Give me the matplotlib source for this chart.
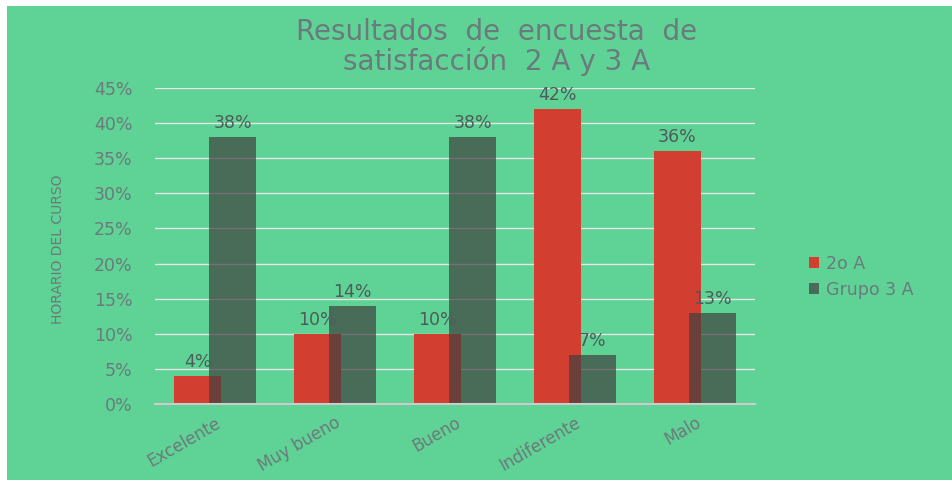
import matplotlib
matplotlib.use("Agg")
import matplotlib.pyplot as plt
import numpy as np
from matplotlib.patches import Rectangle

categories = ["Excelente", "Muy bueno", "Bueno", "Indiferente", "Malo"]
serie_2oA = [0.04, 0.10, 0.10, 0.42, 0.36]
serie_3A = [0.38, 0.14, 0.38, 0.07, 0.13]
series_names = ["2o A", "Grupo 3 A"]
yticks = [0, 0.05, 0.10, 0.15, 0.20, 0.25, 0.30, 0.35, 0.40, 0.45]

BG = "#5fd395"
RED = "#d23e2f"
GREY = "#404040"
TXT = "#6b7a7c"
LBL = "#4d5c5a"

plt.rcParams['font.family'] = ['DejaVu Sans']

fig = plt.figure(figsize=(9.52, 4.80), dpi=100)
fig.patch.set_facecolor("white")
fig.patches.append(Rectangle((7/952, 0), 1 - 7/952, 1 - 6/480, transform=fig.transFigure,
                             facecolor=BG, edgecolor="none", zorder=-10))

ax = fig.add_axes([155/952, 1 - 404/480, 600/952, (404 - 88)/480])
ax.set_facecolor("none")

x = np.arange(len(categories))
off = 0.146
w = 0.39
b1 = ax.bar(x - off, serie_2oA, width=w, color=RED, zorder=3, label=series_names[0])
b2 = ax.bar(x + off, serie_3A, width=w, color=GREY, alpha=0.7, zorder=4, label=series_names[1])

for xi, v in zip(x - off, serie_2oA):
    ax.text(xi, v + 0.007, f"{round(v*100)}%", ha="center", va="bottom", color=LBL,
            fontsize=12.5, zorder=6)
for xi, v in zip(x + off, serie_3A):
    ax.text(xi, v + 0.007, f"{round(v*100)}%", ha="center", va="bottom", color=LBL,
            fontsize=12.5, zorder=6)

ax.set_xlim(-0.5, len(categories) - 0.5)
ax.set_ylim(0, 0.45)
ax.set_yticks(yticks)
ax.set_yticklabels([f"{round(t*100)}%" for t in yticks], color=TXT, fontsize=12.5)
ax.yaxis.grid(True, color="#e6e6e6", linewidth=1, zorder=0)
ax.set_axisbelow(True)
for s in ["top", "right", "left"]:
    ax.spines[s].set_visible(False)
ax.spines["bottom"].set_color("#cccccc")
ax.spines["bottom"].set_linewidth(1.5)
ax.spines["bottom"].set_zorder(5)
ax.tick_params(axis="both", length=0)
ax.tick_params(axis="y", pad=16)
ax.set_xticks(x)
ax.set_xticklabels(categories, rotation=30, ha="right", rotation_mode="anchor",
                   color=TXT, fontsize=12)
ax.tick_params(axis="x", pad=7)

fig.text(58/952, 1 - 249/480, "HORARIO DEL CURSO", rotation=90, ha="center", va="center",
         color=TXT, fontsize=10)

fig.text(497/952, 1 - 47/480, "Resultados  de  encuesta  de\nsatisfacción  2 A y 3 A",
         ha="center", va="center", color=TXT, fontsize=20, linespacing=1.0)

leg = fig.legend(handles=[b1, b2], labels=series_names, loc="center left",
                 bbox_to_anchor=(793/952, 1 - 277/480), frameon=False, fontsize=12.5,
                 handlelength=0.6, handleheight=0.6, handletextpad=0.4, labelspacing=0.45)
for t in leg.get_texts():
    t.set_color(TXT)

fig.savefig("out.png", dpi=100, facecolor=fig.get_facecolor())
